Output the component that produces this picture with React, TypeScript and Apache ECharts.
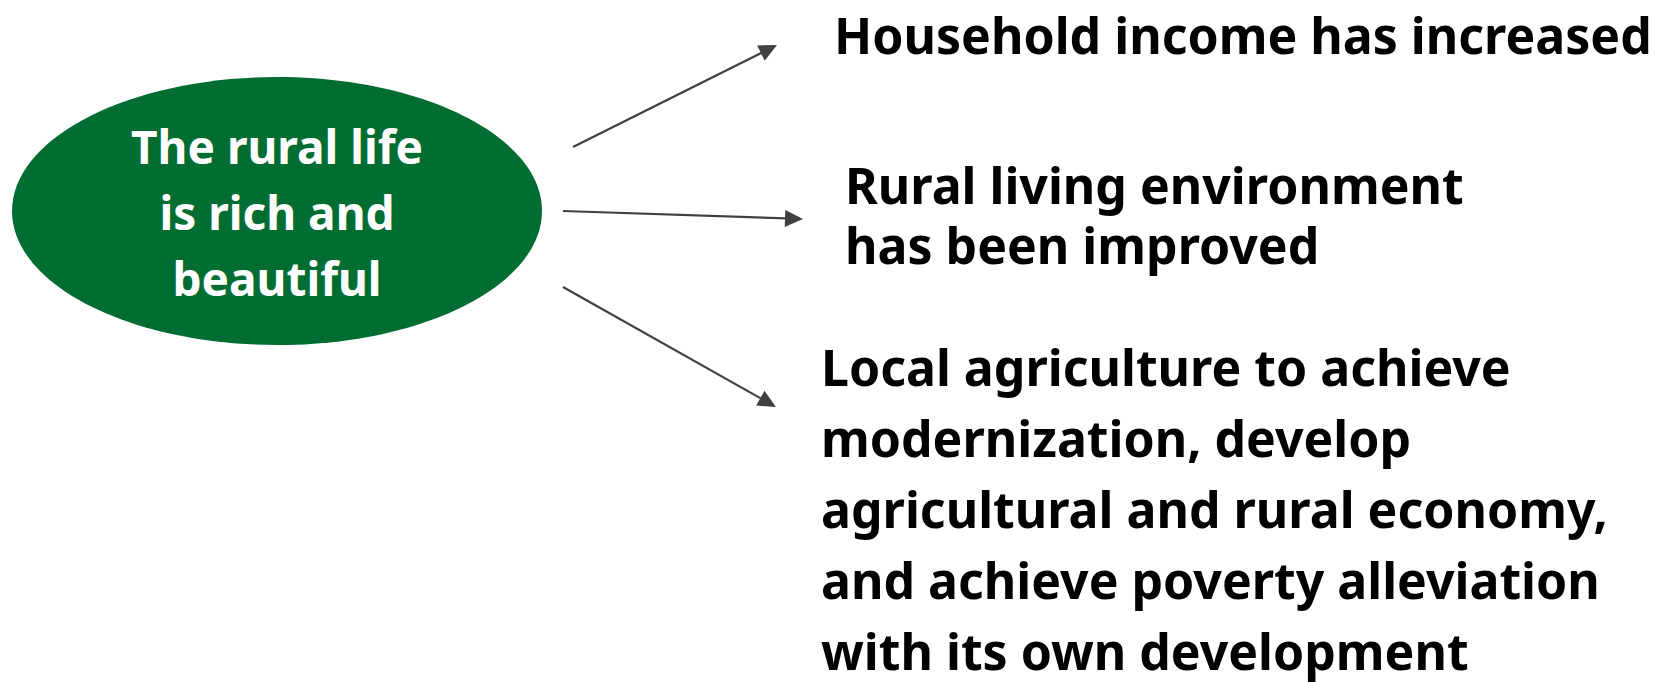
import React, { useEffect, useRef } from "react";
import * as echarts from "echarts";

const W = 1666;
const H = 682;

const centerLabel = ["The rural life", "is rich and", "beautiful"];
const centerEllipse = { cx: 277, cy: 211, rx: 265, ry: 134 };
const ellipseColor = "#026D33";

const outcomeTexts = [
  ["Household income has increased"],
  ["Rural living environment", "has been improved"],
  [
    "Local agriculture to achieve",
    "modernization, develop",
    "agricultural and rural economy,",
    "and achieve poverty alleviation",
    "with its own development",
  ],
];
const outcomeX = [834, 845, 821];
const outcomeCY = [35, 215, 509];
const outcomeLineH = [60, 60, 71];

const arrowStarts = [
  [573, 147],
  [563, 211],
  [563, 287],
];
const arrowEnds = [
  [777, 45],
  [803, 219],
  [776, 407],
];

const FONT = "'Noto Sans', 'Open Sans', sans-serif";

function arrowElements(s: number[], e: number[]) {
  const dx = e[0] - s[0];
  const dy = e[1] - s[1];
  const len = Math.sqrt(dx * dx + dy * dy);
  const ux = dx / len;
  const uy = dy / len;
  const headL = 18;
  const headW = 17;
  const bx = e[0] - ux * headL;
  const by = e[1] - uy * headL;
  const nx = -uy;
  const ny = ux;
  return [
    {
      type: "line",
      shape: { x1: s[0], y1: s[1], x2: bx + ux * 2, y2: by + uy * 2 },
      style: { stroke: "#404040", lineWidth: 2.2 },
    },
    {
      type: "polygon",
      shape: {
        points: [
          [e[0], e[1]],
          [bx + (nx * headW) / 2, by + (ny * headW) / 2],
          [bx - (nx * headW) / 2, by - (ny * headW) / 2],
        ],
      },
      style: { fill: "#404040" },
    },
  ];
}

export default function App() {
  const ref = useRef<HTMLDivElement>(null);
  useEffect(() => {
    if (!ref.current) return;
    const chart = echarts.init(ref.current, undefined, { renderer: "svg" });
    const elements: any[] = [];
    elements.push({
      type: "ellipse",
      shape: centerEllipse,
      style: { fill: ellipseColor },
    });
    elements.push({
      type: "text",
      x: centerEllipse.cx,
      y: centerEllipse.cy + 1,
      style: {
        text: centerLabel.join("\n"),
        fill: "#ffffff",
        font: `bold 46px ${FONT}`,
        lineHeight: 66,
        align: "center",
        verticalAlign: "middle",
      },
    });
    arrowStarts.forEach((s, i) => {
      elements.push(...arrowElements(s, arrowEnds[i]));
    });
    outcomeTexts.forEach((lines, i) => {
      elements.push({
        type: "text",
        x: outcomeX[i],
        y: outcomeCY[i],
        style: {
          text: lines.join("\n"),
          fill: "#000000",
          font: `bold 50px ${FONT}`,
          lineHeight: outcomeLineH[i],
          align: "left",
          verticalAlign: "middle",
        },
      });
    });
    chart.setOption({
      animation: false,
      backgroundColor: "#ffffff",
      graphic: { elements },
    });
    return () => chart.dispose();
  }, []);
  return (
    <div
      ref={ref}
      style={{ position: "fixed", left: 0, top: 0, width: W, height: H }}
    />
  );
}
